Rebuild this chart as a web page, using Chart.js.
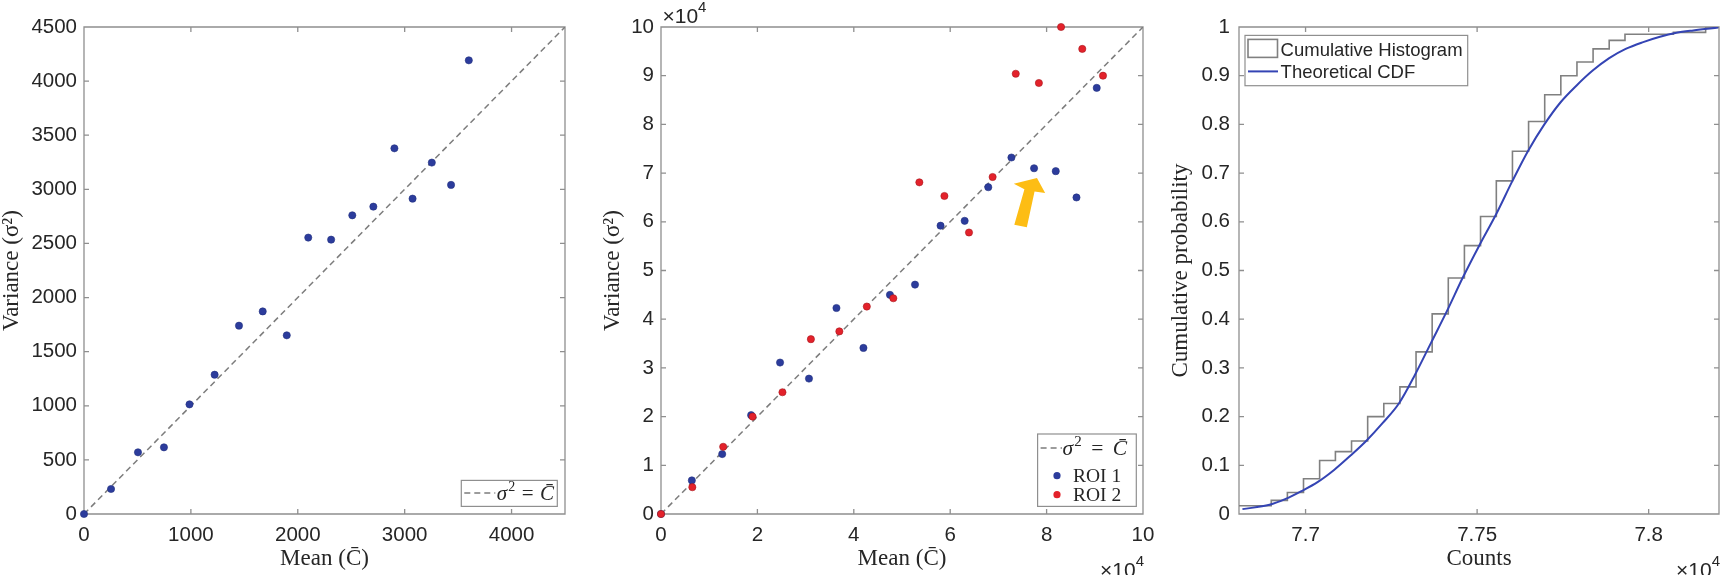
<!DOCTYPE html>
<html><head><meta charset="utf-8">
<script src="https://cdn.jsdelivr.net/npm/chart.js@4.4.1/dist/chart.umd.min.js"></script>
<style>
html,body{margin:0;padding:0;background:#fff;}
body{position:relative;width:1722px;height:575px;overflow:hidden;}
canvas{position:absolute;top:0;}
</style></head><body>
<canvas id="c1" width="580" height="575" style="left:0px"></canvas>
<canvas id="c2" width="600" height="575" style="left:580px"></canvas>
<canvas id="c3" width="572" height="575" style="left:1150px"></canvas>
<script>
// ---------- Panel 1 data ----------
const meanA = [0,253,505,748,987,1222,1450,1672,1897,2098,2312,2510,2707,2904,3074,3254,3434,3600];
const varA  = [0,231,570,616,1013,1287,1740,1872,1651,2554,2535,2760,2840,3379,2914,3247,3041,4192];
const refLineA = [0, 4500];
const xTicksA = [0,1000,2000,3000,4000];
const yTicksA = [0,500,1000,1500,2000,2500,3000,3500,4000,4500];

// ---------- Panel 2 data ----------
const meanR1 = [0,6400,12700,18700,24700,30700,36400,42000,47500,52700,58000,63000,67900,72700,77400,81900,86200,90400];
const varR1  = [0,6900,12300,20300,31100,27800,42300,34100,45000,47100,59200,60200,67100,73200,71000,70400,65000,87500];
const meanR2 = [0,6500,12900,19000,25200,31100,37000,42700,48200,53600,58800,63900,68800,73600,78400,83000,87400,91700];
const varR2  = [0,5500,13800,20000,25000,35900,37500,42600,44300,68100,65300,57800,69200,90400,88500,100000,95500,90000];
const refLineB = [0, 100000];
const xTicksB = [0,20000,40000,60000,80000,100000];
const yTicksB = [0,10000,20000,30000,40000,50000,60000,70000,80000,90000,100000];
const arrowX = [73300,75400,73200,78000,79700,77500,75900];
const arrowY = [59400,66700,67800,69000,65900,66200,58900];

// ---------- Panel 3 data ----------
const histEdges = [76806,76853,76900,76947,76994,77041,77087,77134,77181,77228,77275,77322,77369,77416,77463,77510,77556,77603,77650,77697,77744,77791,77838,77885,77931,77978,78025,78072,78119,78166,78213];
const histCum   = [0.017,0.017,0.028,0.044,0.0725,0.110,0.128,0.150,0.200,0.227,0.261,0.333,0.411,0.4846,0.551,0.611,0.684,0.745,0.806,0.861,0.900,0.928,0.955,0.9725,0.985,0.985,0.985,0.989,0.989,1.0,1.0];
const cdfCounts = [76816,76895,76942,76988,77036,77084,77131,77178,77225,77273,77319,77366,77413,77458,77506,77555,77603,77648,77696,77744,77790,77836,77885,77933,77984,78033,78081,78130,78203];
const cdfProb   = [0.010,0.019,0.031,0.047,0.066,0.091,0.120,0.151,0.187,0.228,0.286,0.352,0.418,0.485,0.551,0.615,0.684,0.745,0.800,0.846,0.880,0.910,0.936,0.955,0.969,0.980,0.988,0.993,0.999];
const xTicksC = [77000,77500,78000];
const yTicksC = [0,0.1,0.2,0.3,0.4,0.5,0.6,0.7,0.8,0.9,1];
const xRangeC = [76806, 78205];

// ---------- styling ----------
const SANS = '"Liberation Sans", Arial, sans-serif';
const SERIF = '"Liberation Serif", "Times New Roman", serif';
const TXT = '#262626';
const AXC = '#8f8f8f';
const BLUE = '#2c3c9c', RED = '#e3222b', CURVE = '#3444b4', GRAY = '#808080', ARROW = '#fdbd14';

const zip = (xs, ys) => xs.map((x, i) => ({x, y: ys[i]}));

function makeAxis(o) {
  return {
    type: 'linear', position: o.pos, min: o.min, max: o.max,
    afterBuildTicks: s => { s.ticks = o.ticks.map(v => ({value: v})); },
    afterFit: s => { if (o.pos === 'left') s.width = o.size; else s.height = o.size; },
    grid: {display: false, drawTicks: false},
    border: {display: false},
    ticks: {font: {family: SANS, size: 20.5}, color: TXT, padding: o.pad, maxRotation: 0, autoSkip: false, callback: o.fmt},
    title: {display: true, text: o.title, color: TXT, font: {family: SERIF, size: 23, lineHeight: 1}, padding: o.tpad}
  };
}

const framePlugin = {
  id: 'frame',
  beforeDatasetsDraw(chart) {
    const {ctx, chartArea: a} = chart;
    const sx = chart.scales.x, sy = chart.scales.y;
    ctx.save();
    ctx.strokeStyle = AXC; ctx.lineWidth = 1.3;
    ctx.beginPath();
    ctx.rect(a.left, a.top, a.right - a.left, a.bottom - a.top);
    const L = 5;
    sx.ticks.forEach(t => { const p = sx.getPixelForValue(t.value);
      ctx.moveTo(p, a.bottom); ctx.lineTo(p, a.bottom - L); ctx.moveTo(p, a.top); ctx.lineTo(p, a.top + L); });
    sy.ticks.forEach(t => { const p = sy.getPixelForValue(t.value);
      ctx.moveTo(a.left, p); ctx.lineTo(a.left + L, p); ctx.moveTo(a.right, p); ctx.lineTo(a.right - L, p); });
    ctx.stroke();
    ctx.restore();
  }
};

function legendBox(ctx, x, y, w, h) {
  ctx.fillStyle = '#fff'; ctx.fillRect(x, y, w, h);
  ctx.strokeStyle = AXC; ctx.lineWidth = 1.2; ctx.strokeRect(x, y, w, h);
}
function eqText(ctx, x, base, size, gap) {
  ctx.fillStyle = TXT; ctx.textBaseline = 'alphabetic'; ctx.textAlign = 'left';
  ctx.font = 'italic ' + size + 'px ' + SERIF; ctx.fillText('σ', x, base); x += ctx.measureText('σ').width + 1;
  ctx.font = Math.round(size * 0.68) + 'px ' + SERIF; ctx.fillText('2', x, base - size * 0.42); x += ctx.measureText('2').width + gap;
  ctx.font = size + 'px ' + SERIF; ctx.fillText('=', x, base); x += ctx.measureText('=').width + gap;
  ctx.font = 'italic ' + size + 'px ' + SERIF; ctx.fillText('C\u0304', x, base);
}
function dashSample(ctx, ds, x1, x2, y) {
  ctx.save(); ctx.setLineDash(ds.borderDash); ctx.strokeStyle = ds.borderColor; ctx.lineWidth = ds.borderWidth;
  ctx.beginPath(); ctx.moveTo(x1, y); ctx.lineTo(x2, y); ctx.stroke(); ctx.restore();
}
function dot(ctx, ds, x, y) {
  ctx.beginPath(); ctx.arc(x, y, ds.pointRadius, 0, Math.PI * 2);
  ctx.fillStyle = ds.backgroundColor; ctx.fill();
}
function expoLabel(ctx, x, base, alignRight) {
  ctx.save(); ctx.fillStyle = TXT; ctx.textBaseline = 'alphabetic'; ctx.textAlign = 'left';
  ctx.font = '21px ' + SANS; const w1 = ctx.measureText('\u00d710').width;
  ctx.font = '15px ' + SANS; const w2 = ctx.measureText('4').width;
  if (alignRight) x = x - w1 - w2;
  ctx.font = '21px ' + SANS; ctx.fillText('\u00d710', x, base);
  ctx.font = '15px ' + SANS; ctx.fillText('4', x + w1, base - 11);
  ctx.restore();
}

const base = (pad) => ({
  responsive: false, animation: false, events: [],
  layout: {padding: pad},
  plugins: {legend: {display: false}, tooltip: {enabled: false}}
});

// ---------- Chart 1 ----------
new Chart(document.getElementById('c1'), {
  type: 'scatter',
  data: {datasets: [
    {label: 'σ² = C̄', data: zip(refLineA, refLineA), showLine: true, borderColor: '#7c7c7c', borderWidth: 1.5, borderDash: [6, 4], pointRadius: 0, order: 2},
    {label: 'data', data: zip(meanA, varA), pointRadius: 3.6, backgroundColor: BLUE, borderColor: '#22307f', borderWidth: 0.6, clip: false, order: 1}
  ]},
  options: Object.assign(base({left: 0, top: 27, right: 15, bottom: 0}), {
    scales: {
      x: makeAxis({pos: 'bottom', min: 0, max: 4500, ticks: xTicksA, fmt: v => String(v), pad: 9, size: 61, title: 'Mean (C̄)', tpad: {top: 0, bottom: 4.5}}),
      y: makeAxis({pos: 'left', min: 0, max: 4500, ticks: yTicksA, fmt: v => String(v), pad: 7, size: 84, title: 'Variance (σ²)', tpad: {top: 0, bottom: 0}})
    }
  }),
  plugins: [framePlugin, {
    id: 'leg1',
    afterDraw(chart) {
      const {ctx, chartArea: a} = chart; const ds = chart.data.datasets[0];
      const w = 96, h = 26, x0 = a.right - 7.7 - w, y0 = a.bottom - 7.6 - h;
      ctx.save(); legendBox(ctx, x0, y0, w, h);
      const cy = y0 + 12.5;
      dashSample(ctx, ds, x0 + 3, x0 + 34, cy);
      eqText(ctx, x0 + 35.5, cy + 7, 21, 6.5);
      ctx.restore();
    }
  }]
});

// ---------- Chart 2 ----------
new Chart(document.getElementById('c2'), {
  type: 'scatter',
  data: {datasets: [
    {label: 'σ² = C̄', data: zip(refLineB, refLineB), showLine: true, borderColor: '#7c7c7c', borderWidth: 1.5, borderDash: [6, 4], pointRadius: 0, order: 3},
    {label: 'ROI 1', data: zip(meanR1, varR1), pointRadius: 3.6, backgroundColor: BLUE, borderColor: '#22307f', borderWidth: 0.6, clip: false, order: 2},
    {label: 'ROI 2', data: zip(meanR2, varR2), pointRadius: 3.6, backgroundColor: RED, borderColor: '#a8161c', borderWidth: 0.6, clip: false, order: 1}
  ]},
  options: Object.assign(base({left: 0, top: 27, right: 37, bottom: 0}), {
    scales: {
      x: makeAxis({pos: 'bottom', min: 0, max: 100000, ticks: xTicksB, fmt: v => String(v / 10000), pad: 9, size: 61, title: 'Mean (C̄)', tpad: {top: 0, bottom: 4.5}}),
      y: makeAxis({pos: 'left', min: 0, max: 100000, ticks: yTicksB, fmt: v => String(v / 10000), pad: 7, size: 81, title: 'Variance (σ²)', tpad: {top: 21, bottom: 0}})
    }
  }),
  plugins: [framePlugin, {
    id: 'arrow2',
    afterDatasetsDraw(chart) {
      const {ctx} = chart; const sx = chart.scales.x, sy = chart.scales.y;
      ctx.save(); ctx.fillStyle = ARROW; ctx.beginPath();
      arrowX.forEach((v, i) => { const px = sx.getPixelForValue(v), py = sy.getPixelForValue(arrowY[i]);
        if (i === 0) ctx.moveTo(px, py); else ctx.lineTo(px, py); });
      ctx.closePath(); ctx.fill(); ctx.restore();
    }
  }, {
    id: 'leg2',
    afterDraw(chart) {
      const {ctx, chartArea: a} = chart; const dsets = chart.data.datasets;
      const w = 98.7, h = 72.4, x0 = a.right - 6.7 - w, y0 = a.bottom - 7.6 - h;
      ctx.save(); legendBox(ctx, x0, y0, w, h);
      let cy = y0 + 14;
      dashSample(ctx, dsets[0], x0 + 3, x0 + 24.4, cy);
      eqText(ctx, x0 + 25, cy + 7, 21.5, 9.5);
      [dsets[1], dsets[2]].forEach((ds, k) => {
        const ry = y0 + 41.7 + k * 19;
        dot(ctx, ds, x0 + 19.4, ry);
        ctx.fillStyle = TXT; ctx.font = '19.5px ' + SERIF; ctx.textBaseline = 'alphabetic'; ctx.textAlign = 'left';
        ctx.fillText(ds.label, x0 + 35.4, ry + 6.6);
      });
      ctx.restore();
      expoLabel(ctx, a.left + 1.5, 23, false);
      expoLabel(ctx, a.right + 1, 577, true);
    }
  }]
});

// ---------- Chart 3 ----------
new Chart(document.getElementById('c3'), {
  type: 'scatter',
  data: {datasets: [
    {label: 'Cumulative Histogram', data: zip(histEdges, histCum), showLine: true, stepped: 'before', borderColor: GRAY, borderWidth: 1.6, pointRadius: 0, order: 2},
    {label: 'Theoretical CDF', data: zip(cdfCounts, cdfProb), showLine: true, cubicInterpolationMode: 'monotone', borderColor: CURVE, borderWidth: 2, pointRadius: 0, order: 1}
  ]},
  options: Object.assign(base({left: 0, top: 27, right: 3, bottom: 0}), {
    scales: {
      x: makeAxis({pos: 'bottom', min: xRangeC[0], max: xRangeC[1], ticks: xTicksC, fmt: v => String(v / 10000), pad: 9, size: 61, title: 'Counts', tpad: {top: 0, bottom: 4.5}}),
      y: makeAxis({pos: 'left', min: 0, max: 1, ticks: yTicksC, fmt: v => String(v), pad: 9, size: 89, title: 'Cumulative probability', tpad: {top: 19, bottom: 0}})
    }
  }),
  plugins: [framePlugin, {
    id: 'leg3',
    afterDraw(chart) {
      const {ctx, chartArea: a} = chart; const dsets = chart.data.datasets;
      const w = 222.7, h = 50.3, x0 = a.left + 6, y0 = a.top + 8.4;
      ctx.save(); legendBox(ctx, x0, y0, w, h);
      ctx.strokeStyle = dsets[0].borderColor; ctx.lineWidth = 1.6;
      ctx.strokeRect(x0 + 3, y0 + 4, 29.5, 18);
      ctx.strokeStyle = dsets[1].borderColor; ctx.lineWidth = 2;
      ctx.beginPath(); ctx.moveTo(x0 + 3, y0 + 36); ctx.lineTo(x0 + 33, y0 + 36); ctx.stroke();
      ctx.fillStyle = TXT; ctx.font = '18.5px ' + SANS; ctx.textBaseline = 'alphabetic'; ctx.textAlign = 'left';
      ctx.fillText(dsets[0].label, x0 + 35.6, y0 + 14.3 + 6.7);
      ctx.fillText(dsets[1].label, x0 + 35.6, y0 + 36 + 6.7);
      ctx.restore();
      expoLabel(ctx, a.right + 1, 577, true);
    }
  }]
});
</script>
</body></html>
